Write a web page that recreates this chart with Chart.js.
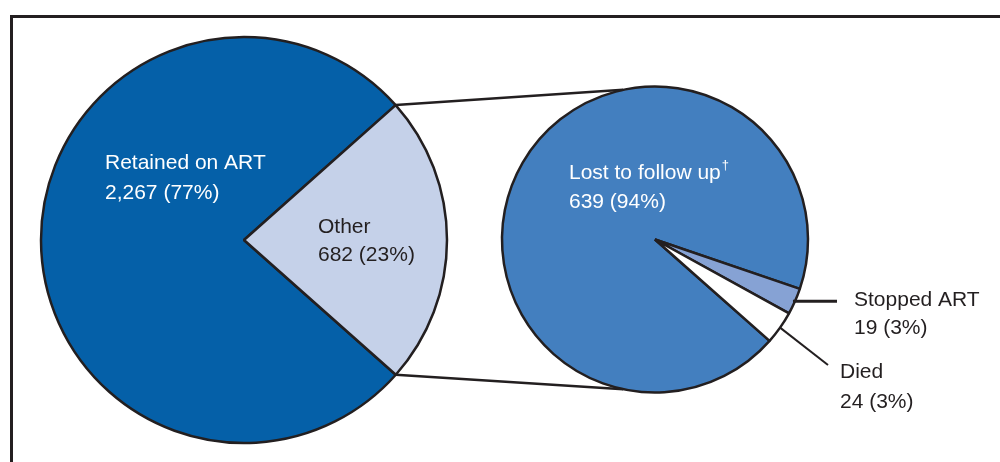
<!DOCTYPE html>
<html>
<head>
<meta charset="utf-8">
<script src="https://cdn.jsdelivr.net/npm/chart.js@4.4.1/dist/chart.umd.min.js"></script>
<style>
  html, body { margin: 0; padding: 0; background: #fff; }
  #wrap { position: relative; width: 1000px; height: 462px; overflow: hidden; background: #fff; }
  #frame { position: absolute; left: 10px; top: 15px; width: 1010px; height: 480px; border-top: 3px solid #231f20; border-left: 3px solid #231f20; box-sizing: border-box; }
  canvas { position: absolute; left: 0; top: 0; }
</style>
</head>
<body>
<div id="wrap">
  <div id="frame"></div>
  <canvas id="left" width="1000" height="462"></canvas>
  <canvas id="right" width="1000" height="462"></canvas>
</div>
<script>
// ---- data ----
const mainCategories = ['Retained on ART', 'Other'];
const mainValues = [2267, 682];
const mainPercents = ['77%', '23%'];
const subCategories = ['Lost to follow up', 'Stopped ART', 'Died'];
const subValues = [639, 19, 24];
const subPercents = ['94%', '3%', '3%'];

const mainColors = ['#0560a8', '#c5d1e9'];
const subColors = ['#437fbf', '#86a2d4', '#ffffff'];
const ink = '#231f20';
const FONT = '21px "Liberation Sans", Arial, sans-serif';

function fmt(n) { return n.toLocaleString('en-US'); }

const leftChart = new Chart(document.getElementById('left'), {
  type: 'pie',
  data: {
    labels: mainCategories,
    datasets: [{
      data: mainValues,
      backgroundColor: mainColors,
      borderColor: ink,
      borderWidth: 2.5
    }]
  },
  options: {
    responsive: false,
    animation: false,
    events: [],
    rotation: 131.6,
    radius: 203,
    layout: { padding: { left: 30, right: 542, top: 30, bottom: 12 } },
    plugins: { legend: { display: false }, tooltip: { enabled: false } }
  }
});

const overlay = {
  id: 'overlay',
  afterDraw(chart) {
    const ctx = chart.ctx;
    const lArcs = leftChart.getDatasetMeta(0).data;
    const rArcs = chart.getDatasetMeta(0).data;
    const other = lArcs[1];
    const lp = other.getProps(['x', 'y', 'startAngle', 'endAngle', 'outerRadius'], true);
    const rp = rArcs[0].getProps(['x', 'y', 'outerRadius'], true);

    // connector lines from the "Other" slice to the breakdown pie
    const a1 = lp.startAngle, a2 = lp.endAngle;
    const p1 = [lp.x + lp.outerRadius * Math.cos(a1), lp.y + lp.outerRadius * Math.sin(a1)];
    const p2 = [lp.x + lp.outerRadius * Math.cos(a2), lp.y + lp.outerRadius * Math.sin(a2)];
    const t1 = -102 * Math.PI / 180, t2 = 102 * Math.PI / 180;
    const q1 = [rp.x + rp.outerRadius * Math.cos(t1), rp.y + rp.outerRadius * Math.sin(t1)];
    const q2 = [rp.x + rp.outerRadius * Math.cos(t2), rp.y + rp.outerRadius * Math.sin(t2)];
    ctx.save();
    ctx.strokeStyle = ink;
    ctx.lineWidth = 2.5;
    ctx.beginPath();
    ctx.moveTo(p1[0], p1[1]); ctx.lineTo(q1[0], q1[1]);
    ctx.moveTo(p2[0], p2[1]); ctx.lineTo(q2[0], q2[1]);
    ctx.stroke();

    // leader lines for small slices
    const sp = rArcs[1].getProps(['startAngle', 'endAngle'], true);
    const sm = (sp.startAngle + sp.endAngle) / 2;
    const sx = rp.x + rp.outerRadius * Math.cos(sm), sy = rp.y + rp.outerRadius * Math.sin(sm);
    ctx.lineWidth = 3;
    ctx.beginPath();
    ctx.moveTo(sx - 2, sy); ctx.lineTo(837, sy);
    ctx.stroke();
    const dp = rArcs[2].getProps(['startAngle', 'endAngle'], true);
    const dm = (dp.startAngle + dp.endAngle) / 2;
    const dx = rp.x + rp.outerRadius * Math.cos(dm), dy = rp.y + rp.outerRadius * Math.sin(dm);
    ctx.lineWidth = 2;
    ctx.beginPath();
    ctx.moveTo(dx, dy); ctx.lineTo(828, 365);
    ctx.stroke();

    // labels
    ctx.font = FONT;
    ctx.textBaseline = 'middle';
    ctx.textAlign = 'left';
    ctx.fillStyle = '#ffffff';
    ctx.fillText(mainCategories[0], 105, 163);
    ctx.fillText(fmt(mainValues[0]) + ' (' + mainPercents[0] + ')', 105, 193);
    ctx.fillText(subCategories[0], 569, 173);
    const w = ctx.measureText(subCategories[0]).width;
    ctx.font = '13px "Liberation Sans", Arial, sans-serif';
    ctx.fillText('\u2020', 569 + w + 1, 165);
    ctx.font = FONT;
    ctx.fillText(fmt(subValues[0]) + ' (' + subPercents[0] + ')', 569, 202);

    ctx.fillStyle = ink;
    ctx.fillText(mainCategories[1], 318, 227);
    ctx.fillText(fmt(mainValues[1]) + ' (' + mainPercents[1] + ')', 318, 255);
    ctx.fillText(subCategories[1], 854, 300);
    ctx.fillText(fmt(subValues[1]) + ' (' + subPercents[1] + ')', 854, 328);
    ctx.fillText(subCategories[2], 840, 372);
    ctx.fillText(fmt(subValues[2]) + ' (' + subPercents[2] + ')', 840, 402);
    ctx.restore();
  }
};

const rightChart = new Chart(document.getElementById('right'), {
  type: 'pie',
  data: {
    labels: subCategories,
    datasets: [{
      data: subValues,
      backgroundColor: subColors,
      borderColor: ink,
      borderWidth: 2.5
    }]
  },
  options: {
    responsive: false,
    animation: false,
    events: [],
    rotation: 131.5,
    radius: 153,
    layout: { padding: { left: 440, right: 130, top: 30, bottom: 13 } },
    plugins: { legend: { display: false }, tooltip: { enabled: false } }
  },
  plugins: [overlay]
});
</script>
</body>
</html>
